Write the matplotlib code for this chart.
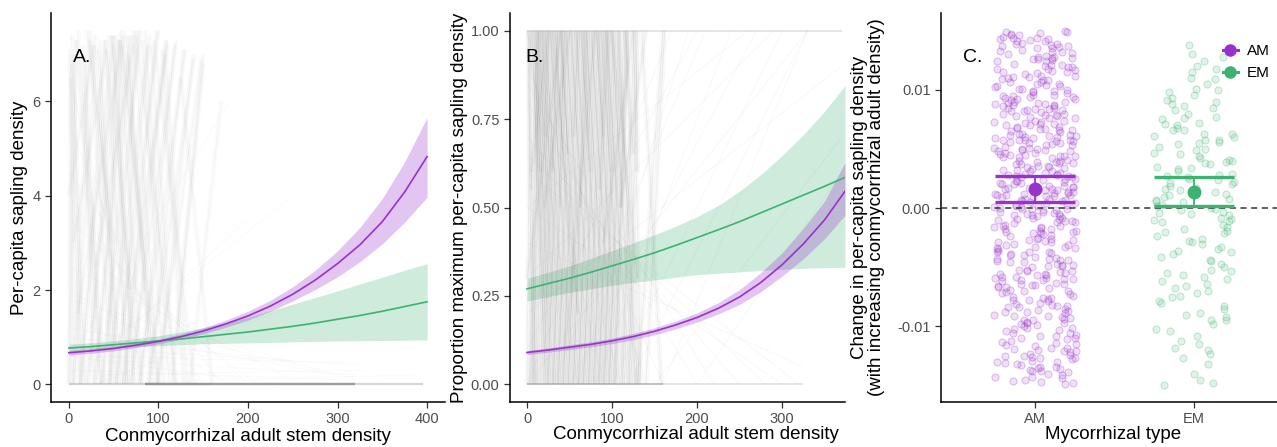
import numpy as np
import matplotlib
matplotlib.use("Agg")
import matplotlib.pyplot as plt
from matplotlib.collections import LineCollection
from matplotlib.lines import Line2D

plt.rcParams['font.family'] = ['Liberation Sans', 'DejaVu Sans']

AM_COL = '#9932CC'
EM_COL = '#3CB371'

# ---- panel A: per-capita sapling density ----
a_x = [0, 25, 50, 75, 100, 125, 150, 175, 200, 225, 250, 275, 300, 325, 350, 375, 400]
a_am = [0.67, 0.71, 0.76, 0.83, 0.91, 1.01, 1.13, 1.28, 1.45, 1.66, 1.91, 2.21, 2.56, 2.96, 3.45, 4.08, 4.83]
a_am_lo = [0.62, 0.66, 0.71, 0.78, 0.86, 0.96, 1.07, 1.21, 1.36, 1.55, 1.77, 2.01, 2.28, 2.60, 2.98, 3.44, 3.97]
a_am_hi = [0.72, 0.76, 0.81, 0.88, 0.96, 1.07, 1.20, 1.36, 1.55, 1.78, 2.07, 2.42, 2.83, 3.33, 3.94, 4.72, 5.66]
a_em = [0.77, 0.80, 0.84, 0.88, 0.92, 0.96, 1.01, 1.06, 1.11, 1.17, 1.23, 1.30, 1.38, 1.46, 1.55, 1.65, 1.75]
a_em_lo = [0.70, 0.74, 0.77, 0.80, 0.82, 0.84, 0.86, 0.87, 0.88, 0.89, 0.90, 0.91, 0.92, 0.925, 0.93, 0.935, 0.94]
a_em_hi = [0.85, 0.88, 0.92, 0.97, 1.03, 1.11, 1.20, 1.30, 1.42, 1.56, 1.70, 1.84, 1.98, 2.13, 2.27, 2.42, 2.56]

# species-level lines (x0, y0, x1, y1)
a_steep = [
    (0, 0, 8, 7.3), (18, 0, 3, 7.4), (6, 0, 30, 7.2), (40, 0, 10, 7.5), (14, 0, 40, 7.3),
    (35, 0, 18, 7.0), (22, 0, 50, 7.4), (60, 0, 26, 7.2), (30, 0, 62, 7.5), (55, 0, 34, 7.3),
    (38, 0, 70, 7.4), (80, 0, 42, 7.1), (46, 0, 78, 7.5), (74, 0, 50, 7.2), (54, 0, 90, 7.4),
    (100, 0, 58, 7.3), (62, 0, 98, 7.5), (92, 0, 66, 7.0), (70, 0, 108, 7.3), (120, 0, 75, 7.4),
    (80, 0, 118, 7.2), (112, 0, 85, 7.5), (90, 0, 128, 7.1), (140, 0, 95, 7.3), (100, 0, 138, 6.9),
    (132, 0, 108, 7.0), (115, 0, 150, 6.8), (160, 0, 125, 6.5), (135, 0, 170, 6.0), (12, 0, 1, 7.1),
    (4, 0, 24, 7.5), (36, 0, 8, 7.3), (12, 0, 48, 7.4), (28, 0, 16, 7.2), (20, 0, 58, 7.5),
    (48, 0, 24, 7.3), (28, 0, 68, 7.4), (52, 0, 32, 7.1), (36, 0, 80, 7.5), (66, 0, 40, 7.3),
    (44, 0, 88, 7.2), (72, 0, 48, 7.4), (52, 0, 100, 7.5), (82, 0, 56, 7.3), (60, 0, 110, 7.2),
    (96, 0, 64, 7.4), (68, 0, 120, 7.3), (100, 0, 72, 7.5), (78, 0, 130, 7.1), (106, 0, 82, 7.3),
    (88, 0, 140, 7.0), (118, 0, 92, 7.2), (98, 0, 148, 6.9), (128, 0, 104, 7.1), (5, 0, 2, 6.8),
    (0, 0, 2, 6.5), (14, 0, 5, 7.0), (45, 0, 52, 7.4), (63, 0, 55, 7.3), (65, 0, 72, 7.2),
    (10, 1.5, 60, 7.4), (50, 3.0, 20, 7.5), (70, 2.0, 110, 7.3), (0, 4.0, 30, 7.4), (90, 1.0, 60, 7.2),
    (30, 2.5, 75, 7.5), (120, 1.0, 150, 7.0), (5, 3.0, 45, 7.4),
]
a_faint = [
    (0, 7.0, 60, 0), (0, 5.5, 120, 0), (0, 4.0, 150, 0), (0, 3.0, 210, 0), (0, 2.5, 260, 0),
    (0, 1.8, 320, 0.1), (0, 6.5, 90, 0), (0, 2.0, 180, 0), (0, 1.2, 300, 0.2), (0, 3.5, 200, 0),
    (0, 0.8, 330, 0.4), (10, 1.5, 280, 0.3), (0, 4.5, 170, 0), (0, 1.0, 250, 0.5), (20, 0.6, 320, 0.45),
    (0, 0, 200, 3.5), (0, 0.2, 250, 4.0), (0, 0.5, 180, 6.0), (30, 0, 320, 2.2), (0, 0, 390, 0.2),
    (0, 0.3, 300, 0.1), (0, 0.6, 230, 0), (40, 0.2, 330, 0.3), (0, 1.5, 140, 0), (60, 0.5, 320, 0.2),
]
a_flat = [(85, 0, 320, 0), (85, 0, 320, 0), (85, 0, 320, 0), (85, 0, 395, 0), (0, 0, 160, 0)]

# ---- panel B: proportion of maximum ----
b_x = [0, 25, 50, 75, 100, 125, 150, 175, 200, 225, 250, 275, 300, 325, 350, 374]
b_am = [0.09, 0.097, 0.105, 0.113, 0.123, 0.135, 0.15, 0.168, 0.189, 0.215, 0.247, 0.288, 0.338, 0.397, 0.465, 0.546]
b_am_lo = [0.084, 0.091, 0.098, 0.106, 0.115, 0.126, 0.140, 0.157, 0.176, 0.199, 0.226, 0.262, 0.306, 0.355, 0.412, 0.478]
b_am_hi = [0.096, 0.103, 0.112, 0.120, 0.131, 0.144, 0.160, 0.179, 0.202, 0.231, 0.268, 0.316, 0.372, 0.441, 0.518, 0.627]
b_em = [0.27, 0.285, 0.30, 0.317, 0.335, 0.353, 0.372, 0.393, 0.415, 0.437, 0.46, 0.485, 0.51, 0.535, 0.56, 0.585]
b_em_lo = [0.235, 0.248, 0.26, 0.27, 0.28, 0.288, 0.295, 0.303, 0.31, 0.314, 0.318, 0.322, 0.325, 0.328, 0.33, 0.331]
b_em_hi = [0.30, 0.317, 0.335, 0.356, 0.378, 0.40, 0.423, 0.447, 0.474, 0.506, 0.546, 0.593, 0.647, 0.706, 0.772, 0.845]

b_steep = [
    (0, 0, 4, 1), (10, 0, 2, 1), (4, 0, 16, 1), (22, 0, 6, 1), (8, 0, 14, 1),
    (28, 0, 10, 1), (12, 0, 20, 1), (34, 0, 14, 1), (16, 0, 26, 1), (40, 0, 18, 1),
    (20, 0, 32, 1), (46, 0, 22, 1), (25, 0, 38, 1), (52, 0, 28, 1), (31, 0, 44, 1),
    (58, 0, 34, 1), (37, 0, 50, 1), (64, 0, 40, 1), (43, 0, 56, 1), (70, 0, 46, 1),
    (49, 0, 62, 1), (76, 0, 52, 1), (55, 0, 68, 1), (82, 0, 58, 1), (61, 0, 74, 1),
    (88, 0, 64, 1), (67, 0, 80, 1), (94, 0, 70, 1), (73, 0, 86, 1), (100, 0, 76, 1),
    (79, 0, 92, 1), (106, 0, 82, 1), (85, 0, 98, 1), (112, 0, 88, 1), (91, 0, 104, 1),
    (118, 0, 94, 1), (97, 0, 110, 1), (124, 0, 100, 1), (104, 0, 116, 1), (128, 0, 108, 1),
    (112, 0, 126, 1), (132, 0, 116, 1), (120, 0, 130, 1), (134, 0, 125, 1), (130, 0, 160, 1),
    (158, 0, 135, 1), (140, 0, 162, 1), (7, 0, 1, 1), (3, 0, 13, 1), (25, 0, 5, 1),
    (7, 0, 19, 1), (31, 0, 9, 1), (11, 0, 24, 1), (37, 0, 13, 1), (15, 0, 30, 1),
    (43, 0, 17, 1), (19, 0, 36, 1), (49, 0, 21, 1), (24, 0, 42, 1), (55, 0, 27, 1),
    (30, 0, 48, 1), (61, 0, 33, 1), (36, 0, 54, 1), (67, 0, 39, 1), (42, 0, 60, 1),
    (73, 0, 45, 1), (48, 0, 66, 1), (79, 0, 51, 1), (54, 0, 72, 1), (85, 0, 57, 1),
    (60, 0, 78, 1), (91, 0, 63, 1), (66, 0, 84, 1), (97, 0, 69, 1), (72, 0, 90, 1),
    (103, 0, 75, 1), (78, 0, 96, 1), (109, 0, 81, 1), (84, 0, 102, 1), (115, 0, 87, 1),
    (90, 0, 108, 1), (121, 0, 93, 1), (96, 0, 114, 1), (127, 0, 99, 1), (102, 0, 120, 1),
    (130, 0, 106, 1), (0, 0.3, 40, 1), (60, 0.2, 30, 1), (20, 0.5, 50, 1), (90, 0.4, 125, 1),
    (130, 0.3, 100, 1), (5, 0.6, 25, 1), (45, 0.1, 80, 1), (110, 0.5, 140, 1),
    (5, 0.55, 12, 1), (15, 0.6, 8, 1), (38, 0.5, 44, 1), (48, 0.65, 40, 1), (62, 0.5, 70, 1),
    (75, 0.6, 66, 1), (85, 0.55, 95, 1), (100, 0.6, 92, 1), (110, 0.5, 118, 1), (125, 0.65, 116, 1),
    (20, 0.7, 26, 1), (55, 0.7, 60, 1), (90, 0.7, 84, 1), (130, 0.6, 128, 1), (30, 0.6, 36, 1),
]
b_faint = [
    (0, 1, 60, 0), (0, 1, 110, 0), (0, 0.9, 160, 0), (0, 0.8, 200, 0), (0, 0.7, 250, 0),
    (0, 0.6, 320, 0), (0, 1, 140, 0), (0, 0.5, 300, 0), (0, 0.95, 90, 0), (0, 0.4, 325, 0.05),
    (0, 0.85, 220, 0), (0, 0.65, 280, 0),
    (0, 0, 330, 1), (50, 0, 270, 1), (100, 0, 300, 1), (0, 0.2, 370, 0.9), (80, 0, 240, 1),
    (120, 0, 330, 1), (150, 0, 370, 0.7), (0, 0.1, 200, 1), (0, 0.3, 290, 1), (160, 0, 330, 1),
    (200, 0, 370, 0.6), (60, 0, 190, 1), (0, 0, 170, 1), (30, 0, 210, 1), (0, 0.5, 260, 1),
]
b_flat = [(0, 1, 370, 1), (0, 0, 160, 0), (0, 0, 160, 0), (0, 0, 325, 0)]

# ---- panel C: slopes by mycorrhizal type ----
types = ['AM', 'EM']
c_mean = [0.0016, 0.00138]
c_lo = [0.00053, 0.00015]
c_hi = [0.00273, 0.00265]

# jittered points: y in units of 1e-4, x offset in units of 0.01
am_y = [
    143, -12, 67, -98, 25, 110, -140, 5, -55, 88, 132, -30, 48, -117, 72, -8, 95, -76, 18, -132,
    61, 124, -44, 9, -87, 147, 36, -63, 101, -19, -125, 79, 3, -101, 55, 138, -36, 22, -70, 114,
    -146, 41, -5, 86, -113, 129, 14, -52, 69, -90, 107, -24, 150, -138, 31, -67, 92, 1, -80, 58,
    120, -15, -108, 77, 44, -58, 135, -128, 11, 84, -40, 103, -95, 27, 65, -2, -121, 141, -47, 52,
    -83, 17, 118, -66, 38, -135, 90, -27, 6, 127, -104, 74, -11, 46, -59, 146, -92, 33, 99, -143,
    8, -73, 62, 112, -34, 20, -118, 83, -49, 139, -7, 57, -88, 108, -21, 29, -130, 71, 13, -61,
    96, -39, 131, -100, 49, -16, 80, -123, 35, 115, -78, 2, 145, -54, 63, -110, 23, -3, 89, -42,
    126, -85, 40, -148, 70, 10, -65, 105, -29, 54, -96, 137, -13, 81, -115, 45, 19, -72, 121, -37,
    66, -1, -127, 93, 28, -50, 149, -81, 15, 102, -136, 60, -23, 76, -106, 39, 133, -60, 7, -91,
    85, 116, -45, 24, -139, 68, -9, 98, -74, 43, 128, -114, 12, -33, 91, -57, 142, -124, 51, -18,
    73, -102, 34, 109, -68, 4, -145, 87, 56, -26, 119, -84, 30, -131, 64, -6, 100, -43, 16, -97,
    136, -56, 47, -111, 21, 78, -20, -134, 94, 37, -77, 111, -48, 59, -4, 144, -120, 26, 82, -64,
    32, -28, 14, -46, 50, -10, 39, -53, 7, 26, -38, 58, -17, 44, -1, -60, 20, 53, -31, 11,
    104, -71, 18, -126, 57, 137, -41, 83, -9, -93, 29, 121, -59, 66, -137, 3, 95, -22, 47, -107,
    -64, 148, -3, 74, -119, 36, 112, -84, 10, 59, -31, 134, -147, 86, -15, 23, -99, 127, -52, 42,
    90, -37, 141, -112, 15, -78, 62, 101, -25, -141, 48, 8, -69, 117, -46, 79, -129, 32, 143, -6,
    -88, 55, -18, 125, -57, 1, 97, -133, 38, -75, 108, 21, -103, 70, -29, 130, -11, 50, -121, 84,
    13, -95, 119, -40, 67, -149, 27, 89, -62, 139, -8, 44, -116, 76, -34, 6, 113, -82, 58, -20,
    146, -49, 31, -106, 80, -2, -138, 92, 19, -67, 124, -27, 61, -91, 105, -14, 40, -125, 71, 0,
    -44, 99, -76, 12, 132, -110, 53, -19, 87, -56, 149, -130, 35, -1, 69, -86, 118, -37, 25, -143,
    78, -12, 107, -61, 45, -97, 9, 128, -33, 63, -122, 94, -5, 17, -79, 140, -48, 82, -108, 30,
    -26, 115, -134, 51, -70, 122, 4, -89, 73, -16, 37, -144, 96, -53, 11, 135, -101, 60, -35, 88,
    49, -83, 2, 144, -118, 28, -43, 103, -7, -65, 85, 16, -127, 58, -21, 111, -94, 43, 126, -58,
]
am_dx = [
    -22, 14, 3, -9, 25, -17, 8, -3, 19, -25, 11, -13, 22, 0, -6, 17, -20, 5, 24, -11,
    9, -24, 16, -1, 21, -15, 2, 13, -8, 26, -19, 6, -12, 23, -4, 10, -23, 18, -7, 1,
    -14, 20, -5, 12, -21, 7, 24, -10, 15, -26, 4, -16, 19, -2, 11, -18, 25, -9, 3, 22,
    6, -20, 13, -3, 18, -12, 1, 23, -24, 9, -7, 16, -1, 21, -15, 5, 26, -11, 14, -19,
    20, -4, 8, -23, 15, 2, -13, 24, -8, 11, -18, 0, 19, -22, 7, -10, 17, -2, 12, -25,
    -6, 22, -16, 4, 25, -21, 10, -5, 17, -12, 1, 24, -19, 8, -1, 14, -24, 3, 21, -9,
    12, -15, 23, -7, 6, -26, 18, -3, 9, 20, -14, 2, -20, 16, -8, 25, -11, 5, -17, 13,
    -1, 19, -10, 24, -18, 7, 0, 15, -23, 11, -5, 21, -13, 4, 26, -16, 9, -21, 17, -4,
    23, -8, 3, -19, 14, -2, 20, -12, 6, -25, 16, -6, 10, 25, -14, 1, -22, 18, -9, 8,
    -17, 11, -24, 5, 21, -11, 15, -1, 24, -20, 2, 13, -7, 19, -15, 7, -3, 22, -26, 10,
    4, -13, 18, -21, 9, 25, -6, 12, -16, 1, 23, -10, 6, -19, 16, -2, 20, -24, 11, -5,
    15, -22, 0, 20, -9, 14, -18, 3, 24, -12, 8, -4, 17, -25, 12, -14, 2, 23, -7, 18,
    -11, 6, 21, -16, 1, -23, 13, -5, 19, -9, 10, -20, 4, 16, -2, 24, -13, 7, -18, 22,
    7, -18, 24, -2, 13, -21, 0, 17, -11, 22, -6, 10, -25, 15, -3, 20, -14, 5, -19, 26,
    -9, 3, -22, 18, -13, 8, 25, -17, 12, -1, 21, -8, 4, -20, 16, -12, 1, 23, -5, 11,
    19, -24, 6, -15, 14, -4, 22, -10, 2, 17, -23, 9, -16, 25, -7, 13, -2, -20, 8, -13,
    -5, 16, -19, 11, 1, -26, 20, -9, 24, -14, 5, -22, 15, -3, 10, -17, 23, -8, 18, 0,
    12, -7, 21, -16, 6, 19, -12, 2, -21, 14, -1, 25, -18, 9, -24, 17, -6, 11, -10, 24,
    -15, 8, -3, 22, -20, 13, 4, -11, 18, -23, 7, -4, 26, -13, 1, -19, 16, -7, 12, -22,
    21, -1, 10, -25, 17, -9, 23, 3, -14, 6, -18, 14, -5, 20, -11, 2, -24, 9, 19, -2,
    -12, 25, -16, 5, -6, 18, -21, 12, 0, -10, 22, -3, 15, -17, 8, -8, 24, -15, 3, 16,
    10, -20, 13, -4, 21, -13, 7, 19, -26, 4, -9, 17, -1, 23, -18, 11, -5, 14, -23, 6,
    -8, 14, -12, 1, 20, -17, 9, -24, 16, -2, 12, -19, 25, -6, 4, -14, 18, -10, 2, -21,
]
em_y = [
    138, 105, -62, 24, -150, 41, -18, 88, -45, 7, 72, -95, 33, -8, 115, -70, 52, -30, 63, -118,
    14, -55, 96, -2, -85, 47, 124, -37, 19, -108, 68, -14, 80, -60, 3, 37, -127, 58, -24, 101,
    -74, 29, -145, 11, 85, -41, 50, -5, -92, 66, 22, -66, 118, -20, 44, -102, 0, 76, -50, 31,
    -11, 93, -132, 17, -79, 56, -28, 109, 9, -58, 40, -112, 27, -3, 70, -89, 61, -35, 130, -16,
    5, -47, 83, -123, 35, -72, 12, 98, -64, 26, -9, 75, -98, 46, -26, 16, -140, 60, -39, 90,
    -80, 38, -21, 110, -52, 21, -115, 54, -6, 66,
    128, -36, 8, -90, 49, -12, 77, -57, 20, -104, 63, 2, -44, 34, -148, 91, -19, 55, -68, 28,
    -4, 42, -83, 15, 100, -29, 71, -120, 6, -53, 86, -1, 120, -75, 39, -10, 58, -33, 25, -95,
]
em_dx = [
    -3, 8, -20, 15, -19, 22, -6, -14, 11, -24, 3, 20, -10, 17, -1, 9, -22, 5, 24, -12,
    13, -17, 0, -8, 19, -25, 6, 23, -15, 2, -11, 18, -4, 21, -20, 10, -7, 16, -23, 1,
    -9, 24, 4, -16, 12, -21, 7, -2, 20, -13, 25, -5, 14, -18, 3, -24, 11, -6, 19, -10,
    22, -14, 9, 1, -22, 16, -3, 13, -19, 6, 24, -8, -17, 18, -11, 4, -25, 15, -1, 21,
    -7, 17, -12, 10, -23, 2, 20, -16, 8, -4, 23, -20, 12, -9, 5, -18, 0, 25, -13, 14,
    -21, 7, 19, -2, 11, -15, 3, -10, 22, -6,
    18, -10, 22, -5, 1, -20, 14, -7, 24, -15, 6, -23, 10, -2, 12, -17, 21, 3, -12, 16,
    -22, 4, 19, -9, 15, -1, -18, 9, -24, 23, -6, 13, 2, -14, 20, -25, 7, 17, -3, 11,
]

TITLE_SIZE = 13.5


def style_axes(ax):
    for s in ['top', 'right']:
        ax.spines[s].set_visible(False)
    for s in ['left', 'bottom']:
        ax.spines[s].set_linewidth(1.1)
        ax.spines[s].set_color('black')
    ax.tick_params(length=4, width=0.9, color='#333333', labelcolor='#4D4D4D', labelsize=10.5)


def seg_list(rows):
    return [[(r[0], r[1]), (r[2], r[3])] for r in rows]


fig = plt.figure(figsize=(12.77, 4.47), dpi=100)
axA = fig.add_axes([51 / 1277, 45 / 447, 394 / 1277, 389 / 447])
axB = fig.add_axes([510 / 1277, 45 / 447, 335 / 1277, 389 / 447])
axC = fig.add_axes([941 / 1277, 45 / 447, 336 / 1277, 389 / 447])

# panel A: soft haze of species lines plus thin strokes
axA.add_collection(LineCollection(seg_list(a_steep), colors='#808080', linewidths=3.5, alpha=0.03))
axA.add_collection(LineCollection(seg_list(a_steep), colors='#808080', linewidths=0.5, alpha=0.07))
axA.add_collection(LineCollection(seg_list(a_faint), colors='#909090', linewidths=0.5, alpha=0.05))
axA.add_collection(LineCollection(seg_list(a_flat), colors='#8a8a8a', linewidths=1.6, alpha=0.35))
axA.fill_between(a_x, a_em_lo, a_em_hi, color=EM_COL, alpha=0.25, lw=0)
axA.fill_between(a_x, a_am_lo, a_am_hi, color=AM_COL, alpha=0.28, lw=0)
axA.plot(a_x, a_em, color=EM_COL, lw=1.2)
axA.plot(a_x, a_am, color=AM_COL, lw=1.2)
axA.set_xlim(-20, 420)
axA.set_ylim(-0.375, 7.875)
axA.set_xticks([0, 100, 200, 300, 400])
axA.set_yticks([0, 2, 4, 6])
axA.set_xlabel('Conmycorrhizal adult stem density', fontsize=TITLE_SIZE, labelpad=1)
axA.set_ylabel('Per-capita sapling density', fontsize=TITLE_SIZE, labelpad=3)
axA.text(0.056, 0.885, 'A.', transform=axA.transAxes, fontsize=14, va='center')
style_axes(axA)

# panel B
axB.add_collection(LineCollection(seg_list(b_steep), colors='#6a6a6a', linewidths=3.5, alpha=0.04))
axB.add_collection(LineCollection(seg_list(b_steep), colors='#6a6a6a', linewidths=0.5, alpha=0.1))
axB.add_collection(LineCollection(seg_list(b_faint), colors='#808080', linewidths=0.5, alpha=0.07))
axB.add_collection(LineCollection(seg_list(b_flat), colors='#9a9a9a', linewidths=1.2, alpha=0.3))
axB.fill_between(b_x, b_em_lo, b_em_hi, color=EM_COL, alpha=0.25, lw=0)
axB.fill_between(b_x, b_am_lo, b_am_hi, color=AM_COL, alpha=0.28, lw=0)
axB.plot(b_x, b_em, color=EM_COL, lw=1.2)
axB.plot(b_x, b_am, color=AM_COL, lw=1.2)
axB.set_xlim(-20, 374)
axB.set_ylim(-0.05, 1.05)
axB.set_xticks([0, 100, 200, 300])
axB.set_yticks([0, 0.25, 0.5, 0.75, 1.0])
axB.set_yticklabels(['0.00', '0.25', '0.50', '0.75', '1.00'])
axB.set_xlabel('Conmycorrhizal adult stem density', fontsize=TITLE_SIZE)
axB.xaxis.set_label_coords(0.555, -0.062)
axB.set_ylabel('Proportion maximum per-capita sapling density', fontsize=TITLE_SIZE, labelpad=2)
axB.text(0.045, 0.885, 'B.', transform=axB.transAxes, fontsize=14, va='center')
style_axes(axB)

# panel C
pos = np.arange(len(types))
colors = [AM_COL, EM_COL]
pts = [(am_dx, am_y), (em_dx, em_y)]
for i, (dx, dy) in enumerate(pts):
    xs = pos[i] + np.array(dx) * 0.01
    ys = np.array(dy) * 1e-4
    axC.scatter(xs, ys, s=26, facecolors=matplotlib.colors.to_rgba(colors[i], 0.15),
                edgecolors=matplotlib.colors.to_rgba(colors[i], 0.3), linewidths=0.7, zorder=2)
axC.axhline(0, color='#333333', lw=1.1, ls=(0, (4, 3)), zorder=3)
for i in range(len(types)):
    axC.hlines([c_lo[i], c_hi[i]], pos[i] - 0.25, pos[i] + 0.25, color=colors[i], lw=2.4, zorder=4)
    axC.vlines(pos[i], c_lo[i], c_hi[i], color=colors[i], lw=1.3, zorder=4)
    axC.plot(pos[i], c_mean[i], 'o', color=colors[i], ms=9, zorder=5)
axC.set_xlim(-0.591, 1.522)
axC.set_ylim(-0.0164, 0.0165)
axC.set_xticks(pos)
axC.set_xticklabels(types)
axC.set_yticks([-0.01, 0.0, 0.01])
axC.set_yticklabels(['-0.01', '0.00', '0.01'])
axC.set_xlabel('Mycorrhizal type', fontsize=TITLE_SIZE)
axC.xaxis.set_label_coords(0.512, -0.062)
axC.set_ylabel('Change in per-capita sapling density\n(with increasing conmycorrhizal adult density)',
               fontsize=TITLE_SIZE, labelpad=9, linespacing=0.95)
axC.text(0.065, 0.885, 'C.', transform=axC.transAxes, fontsize=14, va='center')
handles = [Line2D([], [], color=c, marker='o', ms=8, lw=2.2) for c in colors]
axC.legend(handles, types, loc='upper right', bbox_to_anchor=(1.02, 0.955), frameon=False,
           fontsize=11, handlelength=1.0, handletextpad=0.6, labelspacing=0.5)
style_axes(axC)

fig.savefig('out.png', dpi=100)
